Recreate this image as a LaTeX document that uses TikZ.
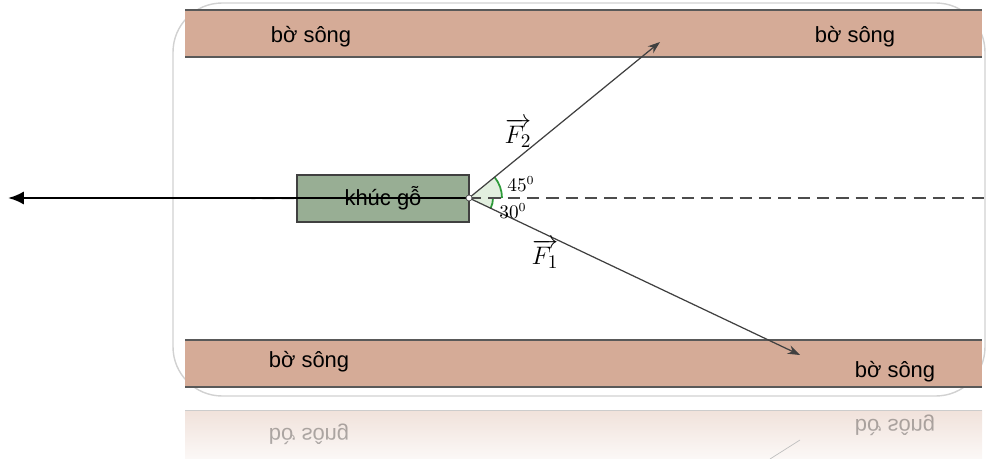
\documentclass[tikz,border=0pt]{standalone}
\usepackage{fontspec}
\newfontfamily\bankfont{Liberation Sans}
\usetikzlibrary{arrows.meta}
\definecolor{bank}{HTML}{D5AB97}
\definecolor{wood}{HTML}{98AE94}
\definecolor{angfill}{HTML}{E2EFDF}
\definecolor{anggreen}{HTML}{2E9A3A}

\begin{document}
\begin{tikzpicture}[x=0.02cm, y=-0.02cm,
    banktext/.style={font=\bankfont\fontsize{12.5}{14}\selectfont},
    bankline/.style={draw=black!65, line width=1pt},
    force/.style={line width=0.7pt, draw=black!75, -{Stealth[length=7pt, width=5pt]}},
    forcelabel/.style={font=\fontsize{15}{17}\selectfont},
    anglabel/.style={font=\fontsize{10.5}{12}\selectfont, inner sep=1pt}]
    \useasboundingbox (0,0) rectangle (987,459);

    % 外框
    \draw[black!18, line width=0.8pt, rounded corners=28] (173,3) rectangle (985,396);

    % 河岸
    \fill[bank] (185,10) rectangle (982,57);
    \draw[bankline] (185,10) -- (982,10);
    \draw[bankline] (185,57) -- (982,57);
    \fill[bank] (185,340) rectangle (982,387);
    \draw[bankline] (185,340) -- (982,340);
    \draw[bankline] (185,387) -- (982,387);
    \node[banktext] (bank1) at (311,37) {bờ sông};
    \node[banktext] (bank2) at (855,37) {bờ sông};
    \node[banktext] (bank3) at (309,362) {bờ sông};
    \node[banktext] (bank4) at (895,372) {bờ sông};

    % 倒影
    \shade[top color=bank!35, bottom color=bank!8] (185,410) rectangle (982,459);
    \draw[black!20] (185,410) -- (982,410);
    \node[banktext, yscale=-1, opacity=0.3] (mirror1) at (309,434) {bờ sông};
    \node[banktext, yscale=-1, opacity=0.3] (mirror2) at (895,425) {bờ sông};
    \draw[black!25] (770,459) -- (800,440);

    % 木头
    \node[draw=black!75, fill=wood, line width=0.8pt, minimum width=172*0.02cm,
        minimum height=47*0.02cm, inner sep=0pt, banktext] (log) at (383,198.5) {khúc gỗ};
    \coordinate (O) at (469,198);
    \coordinate (F1end) at (800,355);
    \coordinate (F2end) at (660,42);
    \coordinate (Rend) at (8,198);

    % 角
    \fill[angfill] (O) -- ++(33,0) arc[start angle=0, end angle=39.2, radius=0.66cm] -- cycle;
    \fill[angfill] (O) -- ++(24,0) arc[start angle=0, end angle=-25.4, radius=0.48cm] -- cycle;
    \draw[anggreen, line width=1pt] (O) ++(33,0) arc[start angle=0, end angle=39.2, radius=0.66cm];
    \draw[anggreen, line width=1pt] (O) ++(24,0) arc[start angle=0, end angle=-25.4, radius=0.48cm];

    % 辅助线
    \draw[black!70, line width=0.8pt, dash pattern=on 7pt off 4pt] (O) -- (985,198);
    \draw[black!70, line width=0.8pt, dash pattern=on 7pt off 4pt] (185,198) -- (log.west);

    % 力
    \draw[force] (O) -- (F2end);
    \draw[force] (O) -- (F1end);
    \draw[line width=1.5pt, -{Latex[length=9pt, width=7.5pt]}] (O) -- (Rend);
    \fill[white, draw=black!70, line width=0.4pt] (O) circle[radius=3];

    % 标注
    \node[forcelabel] (F2lab) at (518,133) {$\overrightarrow{F_2}$};
    \node[forcelabel] (F1lab) at (545,254) {$\overrightarrow{F_1}$};
    \node[anglabel] (a45) at (521,184) {$45^0$};
    \node[anglabel] (a30) at (513,211) {$30^0$};
\end{tikzpicture}
\end{document}
